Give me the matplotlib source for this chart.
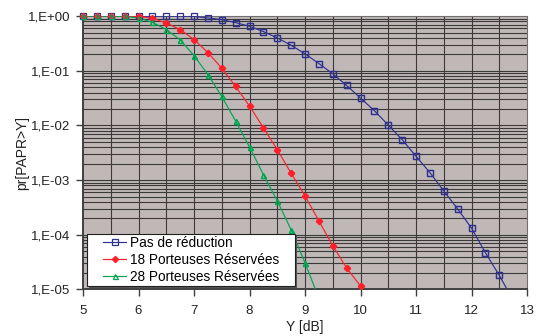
import numpy as np
import matplotlib
matplotlib.use("Agg")
import matplotlib.pyplot as plt
from matplotlib.patches import Rectangle
from matplotlib.ticker import FixedLocator, FuncFormatter, NullFormatter

plt.rcParams['font.family'] = ['Liberation Sans', 'DejaVu Sans']

# x values (dB) and log10 of probabilities
x_blue = [5.0, 5.25, 5.5, 5.75, 6.0, 6.25, 6.5, 6.75, 7.0, 7.25, 7.5, 7.75, 8.0, 8.25,
          8.5, 8.75, 9.0, 9.25, 9.5, 9.75, 10.0, 10.25, 10.5, 10.75, 11.0, 11.25, 11.5,
          11.75, 12.0, 12.25, 12.5, 12.75]
log_blue = [0, 0, 0, 0, 0, 0, 0, 0, -0.005, -0.033, -0.064, -0.119, -0.186, -0.283,
            -0.398, -0.533, -0.690, -0.867, -1.055, -1.268, -1.5, -1.73, -1.993, -2.259,
            -2.564, -2.861, -3.197, -3.526, -3.878, -4.328, -4.741, -5.2]

x_red = [5.0, 5.25, 5.5, 5.75, 6.0, 6.25, 6.5, 6.75, 7.0, 7.25, 7.5, 7.75, 8.0, 8.25,
         8.5, 8.75, 9.0, 9.25, 9.5, 9.75, 10.0, 10.25]
log_red = [0, 0, 0, 0, -0.005, -0.04, -0.124, -0.246, -0.429, -0.666, -0.953, -1.287,
           -1.646, -2.04, -2.442, -2.874, -3.288, -3.745, -4.2, -4.608, -4.936, -5.27]

x_green = [5.0, 5.25, 5.5, 5.75, 6.0, 6.25, 6.5, 6.75, 7.0, 7.25, 7.5, 7.75, 8.0, 8.25,
           8.5, 8.75, 9.0, 9.25]
log_green = [0, 0, 0, -0.005, -0.033, -0.113, -0.246, -0.434, -0.721, -1.068, -1.469,
             -1.92, -2.394, -2.898, -3.379, -3.909, -4.511, -5.16]

labels = ['Pas de réduction', '18 Porteuses Réservées', '28 Porteuses Réservées']
y_ticks = [1, 1e-1, 1e-2, 1e-3, 1e-4, 1e-5]
y_tick_labels = ['1,E+00', '1,E-01', '1,E-02', '1,E-03', '1,E-04', '1,E-05']
x_ticks = [5, 6, 7, 8, 9, 10, 11, 12, 13]

W, H = 540, 336
fig = plt.figure(figsize=(W / 100, H / 100), dpi=100)
ax = fig.add_axes([0.1537, 0.1384, 0.8223, 0.8136])
ax.set_facecolor('#c0b8b6')

ax.set_yscale('log')
ax.set_xlim(5, 13)
ax.set_ylim(1e-5, 1)

# grid
for xv in np.arange(5.5, 13.0, 0.5):
    ax.axvline(xv, color='#3a3a3a', lw=0.8, zorder=1)
for dec in range(-5, 0):
    for m in range(1, 10):
        v = m * 10.0 ** dec
        if 1e-5 < v < 1:
            ax.axhline(v, color='#3a3a3a', lw=0.8, zorder=1)

c_blue = '#2e3192'
c_red = '#ff1f2a'
c_green = '#00a651'

series = [
    (x_blue, log_blue, c_blue, 's', 4.0, 'none', labels[0]),
    (x_red, log_red, c_red, 'D', 3.2, c_red, labels[1]),
    (x_green, log_green, c_green, '^', 3.6, 'none', labels[2]),
]
for xs, ls, c, mk, ms, mfc, lab in series:
    xs = np.array(xs)
    ys = 10 ** np.array(ls)
    ax.plot(xs, ys, color=c, lw=0.85, marker=mk, ms=ms, mfc=mfc, mec=c, mew=0.9,
            label=lab, zorder=3)
    keep = ys >= 1e-5
    ax.plot(xs[keep], ys[keep], ls='none', marker=mk, ms=ms, mfc=mfc, mec=c, mew=0.9,
            zorder=4, clip_on=False)

ax.yaxis.set_major_locator(FixedLocator(y_ticks))
ax.yaxis.set_major_formatter(FuncFormatter(
    lambda v, p: y_tick_labels[int(round(-np.log10(v)))] if 1e-5 <= v <= 1 else ''))
ax.yaxis.set_minor_locator(FixedLocator([]))
ax.yaxis.set_minor_formatter(NullFormatter())
ax.set_xticks(x_ticks)
ax.set_xticklabels([str(t) for t in x_ticks])

ax.tick_params(axis='both', which='major', direction='out', length=5, width=1,
               color='#404040', labelsize=9.5, labelcolor='#222222')
ax.tick_params(axis='y', pad=4)
ax.tick_params(axis='x', pad=6)

for s in ['left', 'bottom']:
    ax.spines[s].set_color('#404040')
    ax.spines[s].set_linewidth(1.4)
for s in ['top', 'right']:
    ax.spines[s].set_color('#707070')
    ax.spines[s].set_linewidth(0.8)

ax.set_xlabel('Y [dB]', fontsize=10, color='#222222', labelpad=2)
ax.set_ylabel('pr[PAPR>Y]', fontsize=10, color='#222222', labelpad=-0.5)

leg = ax.legend(loc='lower left', bbox_to_anchor=(103 / W, (H - 284) / H),
                bbox_transform=fig.transFigure, fontsize=9.8,
                frameon=False, borderpad=0.0,
                labelspacing=0.22, handlelength=1.7, handletextpad=0.25,
                borderaxespad=0.0)
leg.set_zorder(6)

# custom legend frame with wider horizontal padding and a shadow
fig.canvas.draw()
bb = leg.get_window_extent()
inv = ax.transAxes.inverted()
x0, y0 = bb.x0 - 16, bb.y0 - 2
x1, y1 = bb.x1 + 16, bb.y1 + 2
(ax0, ay0), (ax1, ay1) = inv.transform([(x0, y0), (x1, y1)])
(sx0, sy0), (sx1, sy1) = inv.transform([(x0 + 2, y0 - 2), (x1 + 2, y1 - 2)])
ax.add_patch(Rectangle((sx0, sy0), sx1 - sx0, sy1 - sy0, transform=ax.transAxes,
                       facecolor='#555555', edgecolor='none', zorder=4.8, clip_on=False))
ax.add_patch(Rectangle((ax0, ay0), ax1 - ax0, ay1 - ay0, transform=ax.transAxes,
                       facecolor='white', edgecolor='#202020', lw=0.8, zorder=5,
                       clip_on=False))

fig.savefig('out.png', dpi=100)
